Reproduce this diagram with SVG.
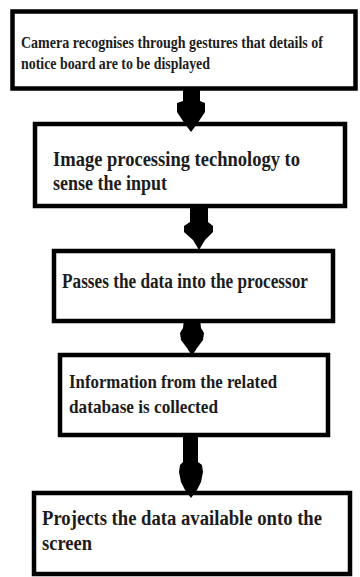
<svg xmlns="http://www.w3.org/2000/svg" width="360" height="577" viewBox="0 0 360 577">
<style>
.box{fill:#fff;stroke:#000;stroke-width:4.5}
.t{font-family:"Liberation Serif","Times New Roman",serif;font-weight:bold;fill:#1c1c1c}
.arr{fill:#000}
</style>
<rect width="360" height="577" fill="#fff"/>
<g id="node1">
<rect class="box" x="12.5" y="11.5" width="343" height="77"/>
<text class="t" font-size="12" transform="translate(21,48) scale(1,1.4)" textLength="302" lengthAdjust="spacingAndGlyphs">Camera recognises through gestures that details of</text>
<text class="t" font-size="12" transform="translate(21,69) scale(1,1.4)" textLength="189" lengthAdjust="spacingAndGlyphs">notice board are to be displayed</text>
</g>
<g id="node2">
<rect class="box" x="35" y="124" width="310" height="82"/>
<text class="t" font-size="15.5" transform="translate(53,166) scale(1,1.4)" textLength="247" lengthAdjust="spacingAndGlyphs">Image processing technology to</text>
<text class="t" font-size="15.5" transform="translate(53,190) scale(1,1.4)" textLength="114" lengthAdjust="spacingAndGlyphs">sense the input</text>
</g>
<g id="node3">
<rect class="box" x="54" y="251" width="279" height="70"/>
<text class="t" font-size="14.5" transform="translate(62,288) scale(1,1.4)" textLength="246" lengthAdjust="spacingAndGlyphs">Passes the data into the processor</text>
</g>
<g id="node4">
<rect class="box" x="60" y="355" width="268" height="80"/>
<text class="t" font-size="14" transform="translate(69,388) scale(1,1.4)" textLength="208" lengthAdjust="spacingAndGlyphs">Information from the related</text>
<text class="t" font-size="14" transform="translate(69,413) scale(1,1.4)" textLength="149" lengthAdjust="spacingAndGlyphs">database is collected</text>
</g>
<g id="node5">
<rect class="box" x="34" y="493" width="316" height="81"/>
<text class="t" font-size="15.5" transform="translate(42,525) scale(1,1.4)" textLength="280" lengthAdjust="spacingAndGlyphs">Projects the data available onto the</text>
<text class="t" font-size="15.5" transform="translate(42,550) scale(1,1.4)" textLength="50" lengthAdjust="spacingAndGlyphs">screen</text>
</g>
<g id="connectors">
<path class="arr" d="M183,88 L200,88 L200,101 L205,103 L205,112 L197,124 L191,132 L185,124 L177,112 L177,103 L183,101 Z"/>
<path class="arr" d="M190,206 L208,206 L208,222 L213,226 L213,232 L205,240 L199,250 L193,240 L184,232 L184,226 L190,222 Z"/>
<path class="arr" d="M184,319 L200,319 L201,328 L204,333 L203,340 L197,348 L192,356 L187,348 L181,340 L180,333 L183,328 Z"/>
<path class="arr" d="M183,435 L198,435 L198,462 L202,465 L203,472 L201,482 L197,490 L191,498 L185,490 L181,482 L179,472 L180,465 L183,462 Z"/>
</g>
</svg>
